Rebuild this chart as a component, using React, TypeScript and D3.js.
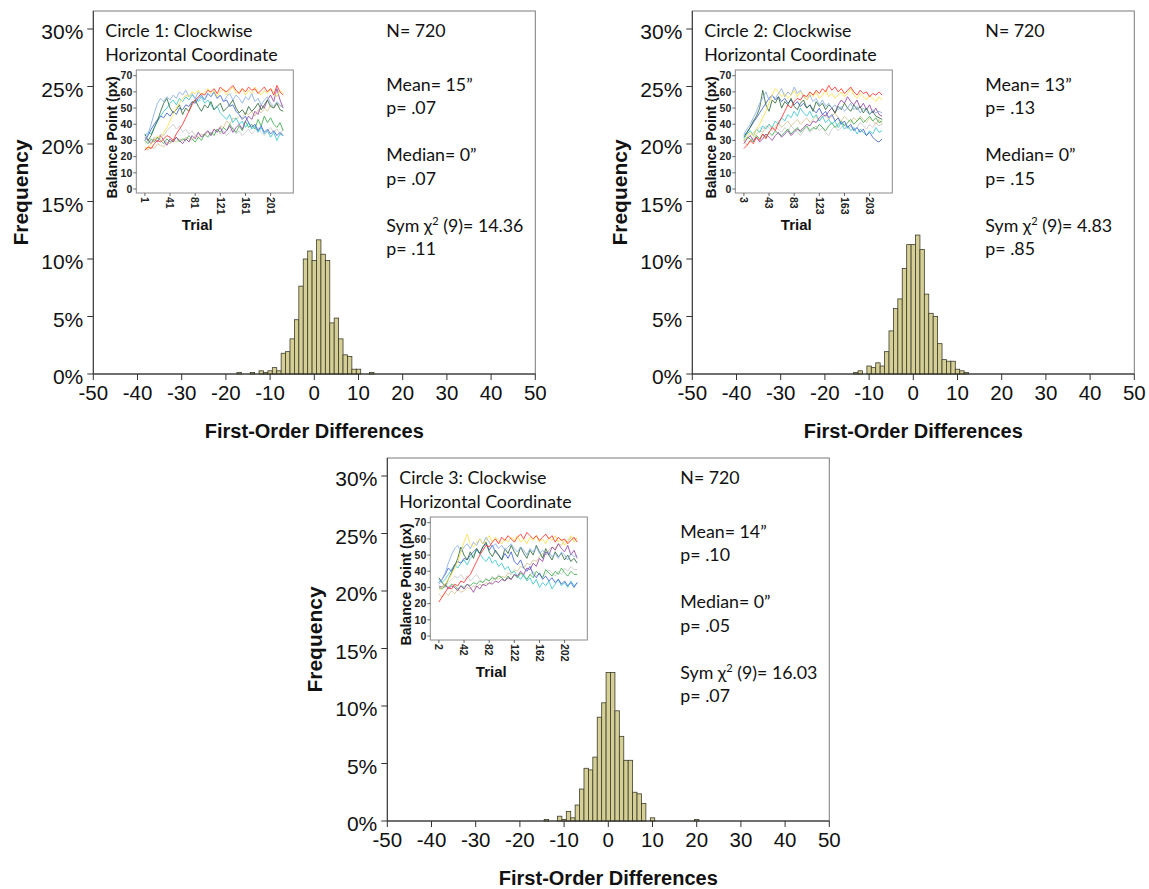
import React from "react";
import * as d3 from "d3";

// ---------- Histogram data: first-order difference (bin centre) and count ----------
const circle1Bins = [-17, -14, -12, -11, -10, -9, -8, -7, -6, -5, -4, -3, -2, -1, 0, 1, 2, 3, 4, 5, 6, 7, 8, 9, 10, 13];
const circle1Counts = [1, 1, 2, 1, 2, 4, 2, 13, 14, 22, 34, 55, 72, 77, 71, 84, 75, 71, 32, 35, 22, 12, 11, 3, 3, 1];

const circle2Bins = [-13, -12, -10, -9, -8, -7, -6, -5, -4, -3, -2, -1, 0, 1, 2, 3, 4, 5, 6, 7, 8, 9, 10, 11, 12];
const circle2Counts = [1, 2, 5, 4, 7, 5, 14, 27, 41, 47, 66, 81, 81, 87, 78, 50, 38, 36, 19, 9, 8, 8, 3, 2, 1];

const circle3Bins = [-14, -11, -10, -9, -8, -7, -6, -5, -4, -3, -2, -1, 0, 1, 2, 3, 4, 5, 6, 7, 8, 10, 20];
const circle3Counts = [1, 3, 1, 6, 2, 10, 20, 33, 32, 40, 65, 74, 93, 93, 69, 53, 38, 38, 18, 17, 11, 2, 1];

// ---------- Annotation text ----------
const circleTitles = ["Circle 1: Clockwise", "Circle 2: Clockwise", "Circle 3: Clockwise"];
const coordinateLabel = "Horizontal Coordinate";
const sampleSizes = [720, 720, 720];
const meanValues = ["15", "13", "14"];
const meanP = [".07", ".13", ".10"];
const medianValues = ["0", "0", "0"];
const medianP = [".07", ".15", ".05"];
const chiDf = [9, 9, 9];
const chiValues = ["14.36", "4.83", "16.03"];
const chiP = [".11", ".85", ".07"];

// ---------- Main axes ticks ----------
const xTicks = [-50, -40, -30, -20, -10, 0, 10, 20, 30, 40, 50];
const yTicks = [0, 5, 10, 15, 20, 25, 30];

// ---------- Inset data: balance point (px) sampled every 5th trial ----------
// series order: red, yellow, light blue, cyan, dark green, green, purple, blue, tan, grey
const TRIAL_STEP = 5;
const insetFirstTrials = [1, 3, 2];
const insetYTicks = [0, 10, 20, 30, 40, 50, 60, 70];

const circle1Traces = [
  [24, 26, 25, 28, 30, 29, 31, 33, 32, 30, 34, 37, 40, 44, 48, 52, 55, 57, 59, 58, 61, 60, 62, 59, 63, 61, 60, 62, 64, 61, 59, 62, 60, 63, 61, 62, 59, 61, 63, 60, 62, 58, 64, 60, 58],
  [26, 25, 28, 30, 33, 31, 35, 38, 42, 46, 50, 53, 56, 58, 57, 60, 59, 61, 58, 60, 62, 59, 61, 57, 60, 62, 58, 61, 63, 59, 60, 62, 58, 61, 59, 63, 60, 58, 61, 59, 62, 60, 57, 61, 59],
  [30, 34, 40, 47, 53, 56, 54, 57, 55, 58, 56, 60, 58, 61, 57, 59, 56, 60, 58, 55, 59, 57, 60, 56, 58, 54, 57, 59, 55, 58, 56, 53, 57, 55, 59, 54, 56, 52, 55, 57, 53, 51, 54, 52, 50],
  [33, 35, 34, 38, 42, 45, 48, 50, 53, 55, 52, 56, 54, 57, 55, 58, 56, 54, 57, 53, 55, 52, 49, 51, 47, 45, 43, 46, 41, 44, 40, 42, 38, 41, 37, 39, 35, 38, 34, 36, 32, 35, 30, 34, 33],
  [34, 30, 33, 38, 42, 48, 53, 56, 50, 47, 49, 52, 46, 50, 48, 53, 55, 51, 48, 52, 50, 54, 49, 51, 53, 48, 50, 52, 55, 50, 47, 49, 46, 51, 48, 50, 53, 49, 52, 55, 51, 50, 53, 49, 48],
  [30, 28, 31, 29, 32, 30, 28, 31, 29, 30, 32, 29, 31, 30, 33, 31, 29, 32, 30, 34, 32, 35, 33, 37, 35, 38, 36, 40, 37, 35, 39, 36, 42, 38, 40, 37, 43, 39, 45, 41, 44, 40, 38, 41, 36],
  [32, 30, 28, 31, 29, 33, 30, 27, 31, 29, 32, 30, 28, 31, 29, 33, 31, 35, 32, 34, 36, 33, 37, 35, 38, 34, 36, 39, 35, 38, 40, 37, 42, 45, 43, 48, 46, 52, 50, 55, 58, 54, 62, 55, 50],
  [30, 33, 37, 40, 43, 45, 44, 47, 45, 48, 46, 50, 49, 52, 51, 54, 53, 56, 58, 55, 59, 57, 60, 56, 58, 54, 55, 51, 52, 48, 46, 43, 45, 41, 38, 40, 36, 39, 35, 37, 34, 36, 33, 35, 33],
  [25, 24, 26, 25, 28, 27, 26, 29, 28, 30, 29, 31, 30, 32, 31, 30, 33, 32, 34, 33, 35, 34, 37, 36, 39, 38, 42, 40, 44, 43, 45, 44, 47, 46, 48, 45, 49, 47, 50, 48, 52, 50, 53, 51, 52],
  [28, 30, 29, 32, 31, 34, 33, 36, 38, 40, 37, 39, 35, 37, 34, 36, 33, 35, 32, 34, 36, 33, 35, 37, 34, 36, 33, 35, 38, 34, 36, 33, 35, 37, 34, 36, 38, 35, 33, 36, 38, 35, 37, 34, 37],
];

const circle2Traces = [
  [25, 27, 30, 28, 32, 30, 34, 31, 35, 38, 36, 41, 44, 48, 52, 50, 54, 56, 55, 58, 57, 60, 58, 61, 59, 62, 60, 64, 61, 63, 60, 62, 59, 61, 63, 60, 58, 61, 59, 60, 57, 59, 58, 60, 58],
  [30, 32, 35, 33, 37, 40, 44, 48, 53, 58, 62, 60, 57, 59, 56, 58, 61, 57, 60, 58, 55, 59, 57, 60, 56, 58, 61, 57, 59, 56, 58, 60, 57, 59, 62, 58, 56, 59, 57, 55, 58, 56, 54, 57, 55],
  [34, 37, 40, 44, 48, 53, 56, 60, 55, 58, 56, 59, 62, 57, 60, 58, 63, 59, 61, 57, 55, 58, 54, 56, 52, 55, 51, 53, 50, 52, 49, 51, 48, 50, 53, 49, 51, 47, 50, 48, 46, 49, 47, 48, 47],
  [31, 34, 36, 33, 37, 35, 39, 37, 40, 38, 42, 40, 44, 42, 46, 44, 48, 45, 50, 47, 45, 48, 44, 46, 42, 45, 41, 43, 40, 42, 38, 41, 37, 39, 36, 38, 34, 37, 35, 33, 36, 34, 38, 35, 36],
  [32, 35, 38, 42, 45, 50, 61, 52, 48, 55, 53, 57, 50, 54, 52, 56, 51, 49, 53, 55, 50, 52, 48, 54, 51, 53, 49, 52, 50, 47, 51, 49, 53, 50, 48, 52, 49, 51, 47, 50, 46, 48, 45, 44, 43],
  [30, 32, 31, 29, 33, 31, 34, 32, 35, 33, 36, 34, 33, 35, 37, 34, 36, 38, 35, 37, 39, 36, 38, 37, 40, 38, 36, 39, 41, 38, 40, 42, 39, 41, 43, 40, 42, 44, 41, 43, 45, 42, 44, 41, 42],
  [28, 31, 33, 30, 32, 29, 31, 34, 32, 30, 33, 35, 32, 34, 36, 33, 35, 37, 36, 38, 40, 39, 42, 41, 44, 46, 45, 48, 50, 47, 52, 55, 53, 57, 54, 52, 55, 50, 53, 49, 52, 47, 50, 46, 45],
  [33, 35, 38, 41, 44, 47, 50, 53, 56, 58, 55, 57, 54, 56, 53, 55, 52, 54, 51, 53, 50, 52, 49, 47, 50, 46, 48, 44, 46, 42, 44, 40, 42, 38, 40, 36, 38, 35, 37, 33, 35, 32, 30, 29, 31],
  [30, 27, 29, 32, 34, 36, 35, 38, 40, 37, 39, 41, 38, 40, 42, 39, 41, 43, 40, 42, 44, 41, 43, 45, 42, 44, 46, 43, 45, 47, 44, 42, 45, 43, 41, 44, 42, 45, 43, 41, 44, 42, 40, 43, 40],
  [29, 31, 33, 35, 36, 38, 37, 39, 38, 36, 38, 37, 35, 38, 36, 39, 37, 35, 33, 36, 38, 35, 37, 39, 36, 38, 35, 33, 37, 39, 36, 38, 40, 37, 39, 36, 38, 41, 39, 37, 40, 38, 41, 39, 40],
];

const circle3Traces = [
  [21, 24, 27, 30, 29, 32, 31, 34, 33, 36, 38, 42, 46, 50, 53, 56, 55, 58, 60, 57, 61, 59, 62, 60, 58, 61, 63, 60, 64, 62, 60, 62, 59, 61, 63, 60, 62, 58, 61, 59, 60, 57, 59, 61, 58],
  [28, 30, 32, 35, 38, 42, 46, 52, 58, 63, 57, 55, 58, 60, 57, 59, 62, 58, 61, 59, 57, 60, 58, 61, 59, 62, 58, 60, 57, 61, 59, 62, 58, 60, 57, 61, 59, 62, 58, 60, 56, 59, 62, 58, 61],
  [32, 35, 39, 45, 50, 54, 56, 52, 55, 57, 54, 58, 56, 60, 57, 61, 58, 55, 57, 54, 56, 53, 55, 57, 54, 52, 55, 53, 50, 54, 52, 55, 51, 53, 50, 52, 49, 51, 48, 52, 50, 47, 51, 49, 50],
  [35, 33, 35, 38, 41, 44, 42, 45, 47, 44, 48, 50, 53, 51, 48, 46, 49, 45, 47, 43, 45, 41, 43, 39, 40, 37, 35, 38, 34, 36, 32, 35, 30, 33, 31, 34, 29, 32, 35, 31, 33, 30, 34, 31, 33],
  [36, 33, 31, 35, 39, 43, 48, 55, 50, 47, 52, 48, 54, 51, 55, 58, 52, 49, 53, 50, 47, 54, 51, 56, 52, 49, 55, 51, 48, 53, 50, 56, 52, 48, 54, 50, 47, 52, 49, 51, 47, 50, 46, 48, 45],
  [30, 29, 31, 30, 32, 31, 29, 31, 30, 32, 31, 33, 32, 34, 33, 35, 34, 36, 35, 37, 36, 34, 37, 35, 38, 36, 39, 37, 35, 38, 36, 40, 38, 36, 41, 39, 37, 40, 38, 42, 39, 37, 40, 38, 38],
  [31, 30, 32, 29, 31, 30, 28, 31, 29, 32, 30, 27, 31, 29, 32, 31, 33, 32, 34, 33, 35, 34, 36, 35, 38, 37, 40, 38, 42, 41, 45, 43, 48, 46, 52, 50, 55, 53, 57, 54, 52, 56, 50, 53, 48],
  [33, 35, 38, 42, 40, 44, 46, 45, 48, 47, 50, 52, 54, 51, 55, 57, 53, 56, 52, 50, 47, 51, 48, 52, 46, 44, 47, 42, 40, 43, 38, 36, 39, 35, 37, 34, 36, 33, 35, 32, 34, 31, 33, 30, 33],
  [26, 24, 27, 25, 28, 26, 29, 27, 28, 30, 29, 31, 30, 32, 31, 33, 32, 34, 36, 35, 37, 36, 39, 38, 41, 40, 43, 42, 45, 44, 47, 46, 49, 51, 50, 53, 55, 54, 57, 56, 59, 58, 61, 60, 60],
  [29, 31, 30, 33, 35, 37, 36, 38, 35, 37, 34, 36, 38, 35, 33, 36, 34, 37, 35, 38, 36, 34, 37, 35, 38, 36, 39, 37, 35, 38, 40, 37, 39, 36, 38, 41, 39, 37, 40, 38, 42, 40, 43, 41, 41],
];

const traceColors = ["#ff3030", "#ffe04a", "#86aee6", "#3cc6cf", "#2f6b3c", "#41ad4f", "#9646a6", "#4262cf", "#d6c490", "#cacaca"];
// grey and tan underneath, coloured traces on top
const drawOrder = [9, 8, 5, 3, 7, 6, 4, 2, 1, 0];

// ---------- Layout ----------
const FRAME_W = 442;
const FRAME_H = 363;
const panelOrigins: [number, number][] = [
  [93.3, 11],
  [692.3, 11],
  [387.3, 458],
];
const INSET = { dx: 43, dy: 59, w: 157, h: 123 };

const ARIAL = "'Liberation Sans', Arial, Helvetica, sans-serif";
const NOTE_FONT = "Lato, 'Open Sans', sans-serif";

const panels = [
  { bins: circle1Bins, counts: circle1Counts, traces: circle1Traces },
  { bins: circle2Bins, counts: circle2Counts, traces: circle2Traces },
  { bins: circle3Bins, counts: circle3Counts, traces: circle3Traces },
];

function Inset({ firstTrial, traces }: { firstTrial: number; traces: number[][] }) {
  const xs = d3.scaleLinear().domain([firstTrial, firstTrial + 200]).range([8.6, 8.6 + 125.7]);
  const ys = d3.scaleLinear().domain([0, 70]).range([119, 5.7]);
  const line = d3
    .line<number>()
    .x((_, i) => xs(firstTrial + i * TRIAL_STEP))
    .y((d) => ys(d));
  const xTickVals = d3.range(0, 6).map((k) => firstTrial + 40 * k);
  return (
    <g transform={`translate(${INSET.dx},${INSET.dy})`}>
      <rect x={0} y={0} width={INSET.w} height={INSET.h} fill="#fff" stroke="#8a8a8a" strokeWidth={1} />
      {drawOrder.map((si) => (
        <path key={si} d={line(traces[si]) || ""} fill="none" stroke={traceColors[si]} strokeWidth={0.85} />
      ))}
      {insetYTicks.map((v) => (
        <g key={v} transform={`translate(0,${ys(v)})`}>
          <line x1={-3} x2={0} stroke="#444" strokeWidth={0.8} />
          <text x={-4} dy="0.35em" textAnchor="end" fontFamily={ARIAL} fontWeight="bold" fontSize={10.5} fill="#222">
            {v}
          </text>
        </g>
      ))}
      {xTickVals.map((t) => (
        <g key={t} transform={`translate(${xs(t)},${INSET.h})`}>
          <line y1={0} y2={3} stroke="#444" strokeWidth={0.8} />
          <text
            transform="translate(0,4) rotate(90)"
            dy="0.35em"
            textAnchor="start"
            fontFamily={ARIAL}
            fontWeight="bold"
            fontSize={10.5}
            fill="#222"
          >
            {t}
          </text>
        </g>
      ))}
      <text
        transform={`translate(-24,${ys(35) + 5}) rotate(-90)`}
        textAnchor="middle"
        dy="0.35em"
        fontFamily={ARIAL}
        fontWeight="bold"
        fontSize={14}
        fill="#111"
      >
        Balance Point (px)
      </text>
      <text x={61} y={160} textAnchor="middle" fontFamily={ARIAL} fontWeight="bold" fontSize={15} fill="#111">
        Trial
      </text>
    </g>
  );
}

function Panel({ index }: { index: number }) {
  const [x0, y0] = panelOrigins[index];
  const { bins, counts, traces } = panels[index];
  const n = sampleSizes[index];
  const x = d3.scaleLinear().domain([-50, 50]).range([0, FRAME_W]);
  const y = d3.scaleLinear().domain([0, 30]).range([FRAME_H, FRAME_H - 345]);
  const noteX = 293;
  return (
    <g transform={`translate(${x0},${y0})`}>
      <rect x={0} y={0} width={FRAME_W} height={FRAME_H} fill="#fff" stroke="#7a7a7a" strokeWidth={1} />
      {bins.map((b, i) => {
        const pct = (counts[i] / n) * 100;
        return (
          <rect
            key={b}
            x={x(b - 0.5)}
            y={y(pct)}
            width={x(b + 0.5) - x(b - 0.5)}
            height={y(0) - y(pct)}
            fill="#d5ce95"
            stroke="#3d3d2c"
            strokeWidth={0.8}
          />
        );
      })}
      {/* axes */}
      <line x1={0} x2={FRAME_W} y1={FRAME_H} y2={FRAME_H} stroke="#222" strokeWidth={1} />
      <line x1={0} x2={0} y1={0} y2={FRAME_H} stroke="#333" strokeWidth={1} />
      {xTicks.map((t) => (
        <g key={t} transform={`translate(${x(t)},${FRAME_H})`}>
          <line y1={0} y2={6} stroke="#333" strokeWidth={1} />
          <text y={26} textAnchor="middle" fontFamily={ARIAL} fontSize={20.5} fill="#111">
            {t}
          </text>
        </g>
      ))}
      {yTicks.map((t) => (
        <g key={t} transform={`translate(0,${y(t)})`}>
          <line x1={-6} x2={0} stroke="#333" strokeWidth={1} />
          <text x={-10} y={10} textAnchor="end" fontFamily={ARIAL} fontSize={21} fill="#111">
            {`${t}%`}
          </text>
        </g>
      ))}
      <text
        transform={`translate(-73,${FRAME_H / 2}) rotate(-90)`}
        textAnchor="middle"
        dy="0.35em"
        fontFamily={ARIAL}
        fontWeight="bold"
        fontSize={21}
        fill="#111"
      >
        Frequency
      </text>
      <text x={FRAME_W / 2} y={FRAME_H + 64} textAnchor="middle" fontFamily={ARIAL} fontWeight="bold" fontSize={20} fill="#111">
        First-Order Differences
      </text>

      {/* annotations */}
      <g fontFamily={NOTE_FONT} fontSize={17.8} fill="#111">
        <text x={12} y={26}>{circleTitles[index]}</text>
        <text x={12} y={50}>{coordinateLabel}</text>
        <text x={noteX} y={26}>{`N= ${n}`}</text>
        <text x={noteX} y={80}>{`Mean= ${meanValues[index]}\u201D`}</text>
        <text x={noteX} y={103}>{`p= ${meanP[index]}`}</text>
        <text x={noteX} y={150}>{`Median= ${medianValues[index]}\u201D`}</text>
        <text x={noteX} y={174}>{`p= ${medianP[index]}`}</text>
        <text x={noteX} y={221}>
          {"Sym \u03C7"}
          <tspan dy={-7} fontSize={11}>2</tspan>
          <tspan dy={7}>{` (${chiDf[index]})= ${chiValues[index]}`}</tspan>
        </text>
        <text x={noteX} y={244}>{`p= ${chiP[index]}`}</text>
      </g>

      <Inset firstTrial={insetFirstTrials[index]} traces={traces} />
    </g>
  );
}

export default function App() {
  return (
    <svg
      width={1149}
      height={889}
      viewBox="0 0 1149 889"
      style={{ position: "absolute", left: 0, top: 0, background: "#fff" }}
    >
      <rect width={1149} height={889} fill="#fff" />
      {panels.map((_, i) => (
        <Panel key={i} index={i} />
      ))}
    </svg>
  );
}
